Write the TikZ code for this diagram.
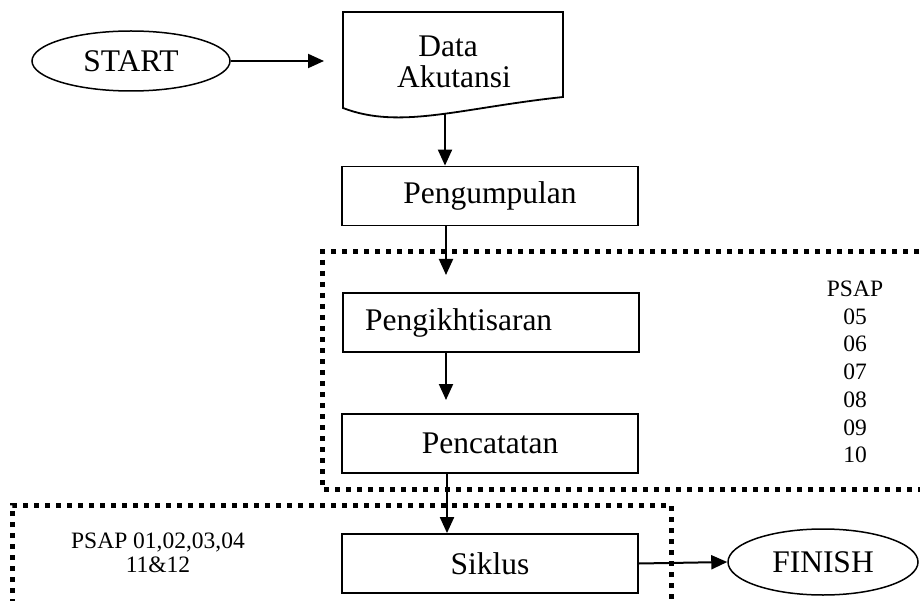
\documentclass[tikz,border=0pt]{standalone}
\usepackage{fontspec}
\setmainfont{Liberation Serif}
\usetikzlibrary{arrows.meta,shapes.geometric,calc}
\begin{document}
\begin{tikzpicture}[x=1pt,y=-1pt,
  bigtext/.style={font=\fontsize{31.5}{31}\selectfont},
  smalltext/.style={font=\fontsize{23.5}{27.7}\selectfont, align=center, inner sep=0pt},
  procbox/.style={draw, line width=1.8pt, minimum width=296pt, minimum height=59pt, inner sep=0pt, bigtext},
  termnode/.style={draw, ellipse, line width=1.5pt, inner sep=0pt, bigtext},
  arr/.style={line width=2pt, -{Triangle[length=16pt,width=14pt]}},
  dotline/.style={line width=5pt, dash pattern=on 5pt off 6pt}
]
\useasboundingbox[fill=white] (0,0) rectangle (920,601);

% dotted groups
\draw[dotline] (930,252) -- (322,252) -- (322,489) -- (930,489);
\draw[dotline] (12,615) -- (12,505) -- (671,505) -- (671,615);

% START
\node[termnode, minimum width=198pt, minimum height=60pt] (start) at (131,61) {START};

% document shape
\draw[line width=1.8pt, fill=white] (343,108) -- (343,12) -- (563,12) -- (563,97)
  .. controls (460,108) and (400,130) .. (343,108) -- cycle;
\node[bigtext, anchor=base, inner sep=0pt] (doca) at (448,57) {Data};
\node[bigtext, anchor=base, inner sep=0pt] (docb) at (454,88) {Akutansi};
\coordinate (docbot) at (445,114);
\coordinate (startT) at (324,61);

% process boxes
\node[procbox] (pg) at (490,196) {Pengumpulan};
\node[procbox, inner xsep=22pt, text width=252pt, align=left] (pk) at (491,322.5) {Pengikhtisaran};
\node[procbox] (pc) at (490,443.5) {Pencatatan};
\node[procbox] (sk) at (490,563.5) {Siklus};

% FINISH
\node[termnode, minimum width=190pt, minimum height=66pt] (finish) at (823,562) {FINISH};

% side texts
\node[smalltext] (psap) at (855,372) {PSAP\\05\\06\\07\\08\\09\\10};
\node[smalltext, font=\fontsize{23.5}{24}\selectfont] (psapb) at (158,553) {PSAP 01,02,03,04\\11\&12};

% connectors
\coordinate (t1) at (446,275);
\coordinate (t2) at (446,400);
\coordinate (col) at (447,0);
\draw[arr] (start.east) -- (startT);
\draw[arr] (docbot) -- (pg.north -| docbot);
\draw[arr] (pg.south -| t1) -- (t1);
\draw[arr] (pk.south -| t2) -- (t2);
\draw[arr] (pc.south -| col) -- (sk.north -| col);
\draw[arr] (sk.east) -- (finish.west);
\end{tikzpicture}
\end{document}
